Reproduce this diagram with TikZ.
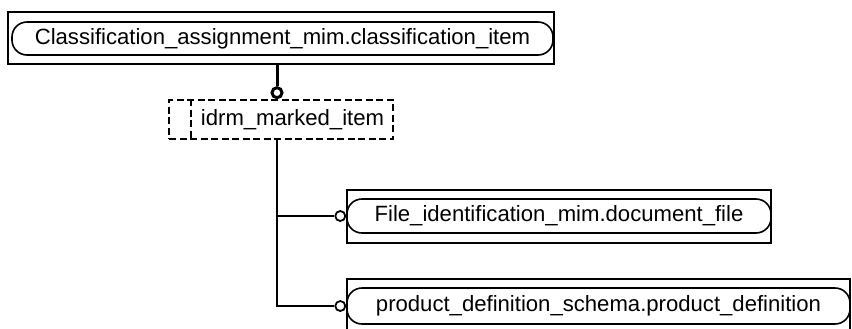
\documentclass[tikz,border=0pt]{standalone}
\usepackage{fontspec}
\setmainfont{Liberation Sans}
\tikzset{
  entframe/.style={draw, line width=1.6bp, inner sep=0pt},
  entname/.style={draw, line width=1.6bp, rounded corners=15bp, inner sep=0pt},
  selbox/.style={draw, line width=1.6bp, dash pattern=on 7bp off 3.5bp, inner sep=0pt},
  ring/.style={draw, circle, line width=1.8bp, minimum size=10bp, inner sep=0pt},
  link/.style={line width=1.6bp},
}
\begin{document}
\begin{tikzpicture}[x=1bp,y=-1bp,font=\fontsize{22.2}{26}\selectfont]
\useasboundingbox (0,0) rectangle (852,328);
%supertype
\node[entframe, minimum width=546bp, minimum height=52bp] (clsframe) at (281,38) {};
\node[entname, minimum width=541bp, minimum height=33bp] (clsitem) at (282.5,38.5) {Classification\_assignment\_mim.classification\_item};
%select type
\node[selbox, minimum width=224bp, minimum height=39bp] (markeditem) at (281,119.5) {};
\draw[selbox] ([xshift=23bp]markeditem.north west) -- ([xshift=23bp]markeditem.south west);
\node (markedname) at (292.5,120) {idrm\_marked\_item};
%subtypes
\node[entframe, minimum width=424bp, minimum height=53bp] (docframe) at (559,216.5) {};
\node[entname, minimum width=424bp, minimum height=34bp] (docfile) at (559,216) {File\_identification\_mim.document\_file};
\node[entframe, minimum width=503bp, minimum height=54bp] (prodframe) at (598.5,306) {};
\node[entname, minimum width=503bp, minimum height=36bp] (proddef) at (598.5,306) {product\_definition\_schema.product\_definition};
%links
\coordinate (tap) at (277,0);
\node[ring, line width=3bp, anchor=south] (topring) at (markeditem.north -| tap) {};
\draw[line width=3bp] (clsframe.south -| tap) -- (topring);
\node[ring, anchor=east] (docring) at (docfile.west) {};
\node[ring, anchor=east] (prodring) at (proddef.west) {};
\draw[link] (markeditem.south -| tap) |- (docring);
\draw[link] (markeditem.south -| tap) |- (prodring);
\end{tikzpicture}
\end{document}
